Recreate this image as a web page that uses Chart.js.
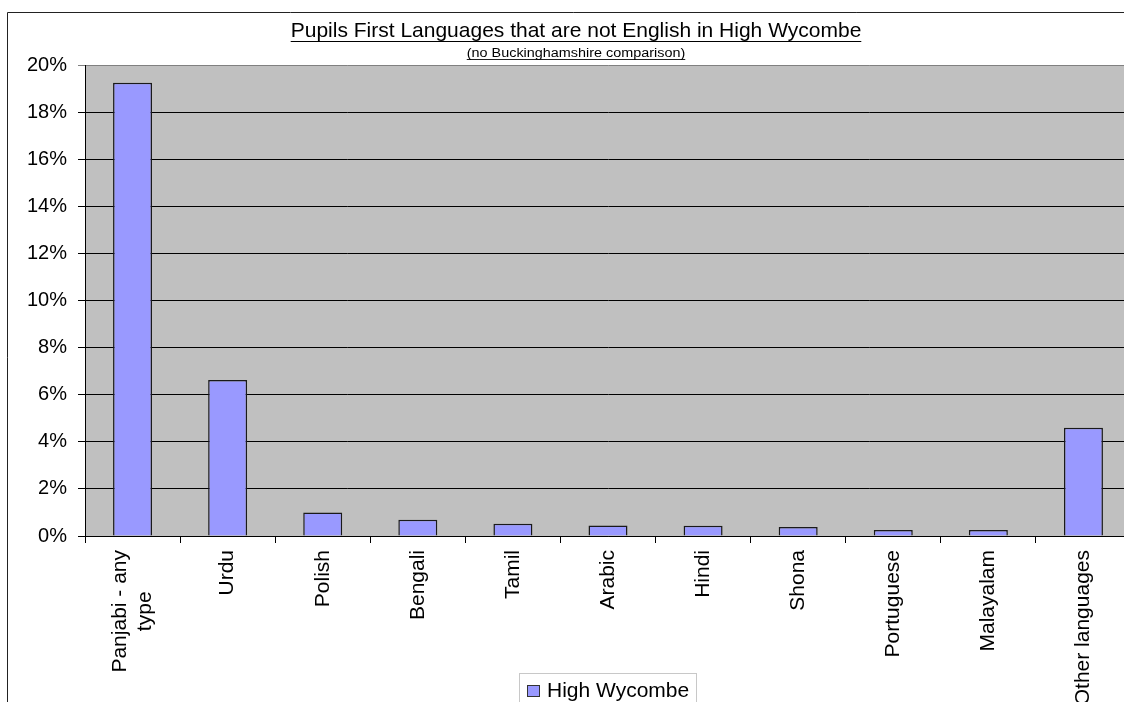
<!DOCTYPE html>
<html><head><meta charset="utf-8">
<script src="https://cdn.jsdelivr.net/npm/chart.js@4.4.1/dist/chart.umd.min.js"></script>
<style>
html,body{margin:0;padding:0;overflow:hidden;background:#fff;width:1124px;height:702px}
#wrap{position:absolute;left:0;top:0;width:1140px;height:702px}
</style></head><body>
<div id="wrap"><canvas id="c"></canvas></div>
<script>
const titleText = 'Pupils First Languages that are not English in High Wycombe';
const subtitleText = '(no Buckinghamshire comparison)';
const seriesName = 'High Wycombe';
const categories = [['Panjabi - any','type'],'Urdu','Polish','Bengali','Tamil','Arabic','Hindi','Shona','Portuguese','Malayalam','Other languages'];
const values = [19.25, 6.62, 1.0, 0.69, 0.52, 0.45, 0.44, 0.38, 0.25, 0.25, 4.6];
const yMin = 0, yMax = 20, yStep = 2;
const FONT = '"Liberation Sans", Arial, sans-serif';
const BAR_COLOR = '#9999ff';

const decor = {
  id: 'decor',
  beforeDraw(chart) {
    const {ctx, chartArea: a} = chart;
    ctx.save();
    ctx.fillStyle = '#fff';
    ctx.fillRect(0, 0, chart.width, chart.height);
    ctx.fillStyle = '#c0c0c0';
    ctx.fillRect(a.left, a.top, a.right - a.left, a.bottom - a.top);
    ctx.restore();
  },
  afterDraw(chart) {
    const {ctx} = chart;
    ctx.save();
    // outer frame
    ctx.strokeStyle = '#222'; ctx.lineWidth = 1;
    ctx.beginPath(); ctx.moveTo(7.5, chart.height); ctx.lineTo(7.5, 12.5); ctx.lineTo(chart.width, 12.5); ctx.stroke();
    // title
    const cx = 576;
    ctx.fillStyle = '#000'; ctx.strokeStyle = '#000';
    ctx.font = '21px ' + FONT; ctx.textAlign = 'center'; ctx.textBaseline = 'alphabetic';
    ctx.fillText(titleText, cx, 37);
    let w = ctx.measureText(titleText).width;
    ctx.beginPath(); ctx.moveTo(cx - w/2, 41.5); ctx.lineTo(cx + w/2, 41.5); ctx.stroke();
    // subtitle
    ctx.save();
    ctx.translate(cx, 57); ctx.scale(1.2, 1);
    ctx.font = '12px ' + FONT;
    ctx.fillText(subtitleText, 0, 0);
    w = ctx.measureText(subtitleText).width;
    ctx.lineWidth = 0.8;
    ctx.beginPath(); ctx.moveTo(-w/2, 2.5); ctx.lineTo(w/2, 2.5); ctx.stroke();
    ctx.restore();
    // x labels
    const xs = chart.scales.x;
    ctx.font = '21px ' + FONT; ctx.textAlign = 'center'; ctx.textBaseline = 'middle';
    categories.forEach((lab, i) => {
      const lines = Array.isArray(lab) ? lab : [lab];
      const x = xs.getPixelForValue(i);
      const maxW = Math.max(...lines.map(l => ctx.measureText(l).width));
      ctx.save();
      ctx.translate(x, 550); ctx.rotate(-Math.PI/2);
      lines.forEach((ln, j) => {
        const off = (j - (lines.length - 1) / 2) * 25;
        ctx.fillText(ln, -maxW/2, off);
      });
      ctx.restore();
    });
    // legend
    ctx.strokeStyle = '#c8c8c8'; ctx.lineWidth = 1;
    ctx.strokeRect(519.5, 673.5, 177, 40);
    ctx.fillStyle = chart.data.datasets[0].backgroundColor;
    ctx.fillRect(527, 685, 13, 12);
    ctx.strokeStyle = '#333';
    ctx.strokeRect(527.5, 685.5, 12, 11);
    ctx.fillStyle = '#000'; ctx.textAlign = 'left'; ctx.textBaseline = 'alphabetic';
    ctx.font = '21px ' + FONT;
    ctx.fillText(chart.data.datasets[0].label, 547, 697);
    ctx.restore();
  }
};

new Chart(document.getElementById('c'), {
  type: 'bar',
  data: {
    labels: categories,
    datasets: [{
      label: seriesName,
      data: values,
      backgroundColor: BAR_COLOR,
      borderColor: '#1a1a1a',
      borderWidth: 1.5,
      categoryPercentage: 1,
      barPercentage: 0.41
    }]
  },
  options: {
    responsive: true,
    maintainAspectRatio: false,
    animation: false,
    layout: {padding: {top: 65, left: 0, right: 9, bottom: 0}},
    plugins: {legend: {display: false}, tooltip: {enabled: false}, title: {display: false}},
    scales: {
      x: {
        afterFit: s => { s.height = 166; },
        ticks: {display: false},
        grid: {drawOnChartArea: false, drawTicks: true, tickLength: 7, color: '#000', offset: true},
        border: {display: true, color: '#000', width: 1}
      },
      y: {
        min: yMin, max: yMax,
        afterFit: s => { s.width = 85; },
        ticks: {
          stepSize: yStep, padding: 11, color: '#000',
          font: {family: FONT, size: 20},
          callback: v => v + '%'
        },
        grid: {
          color: c => (c.tick && c.tick.value === yMax) ? '#808080' : '#000',
          lineWidth: 1, tickLength: 7, drawTicks: true
        },
        border: {display: true, color: '#000', width: 1}
      }
    }
  },
  plugins: [decor]
});
</script>
</body></html>
